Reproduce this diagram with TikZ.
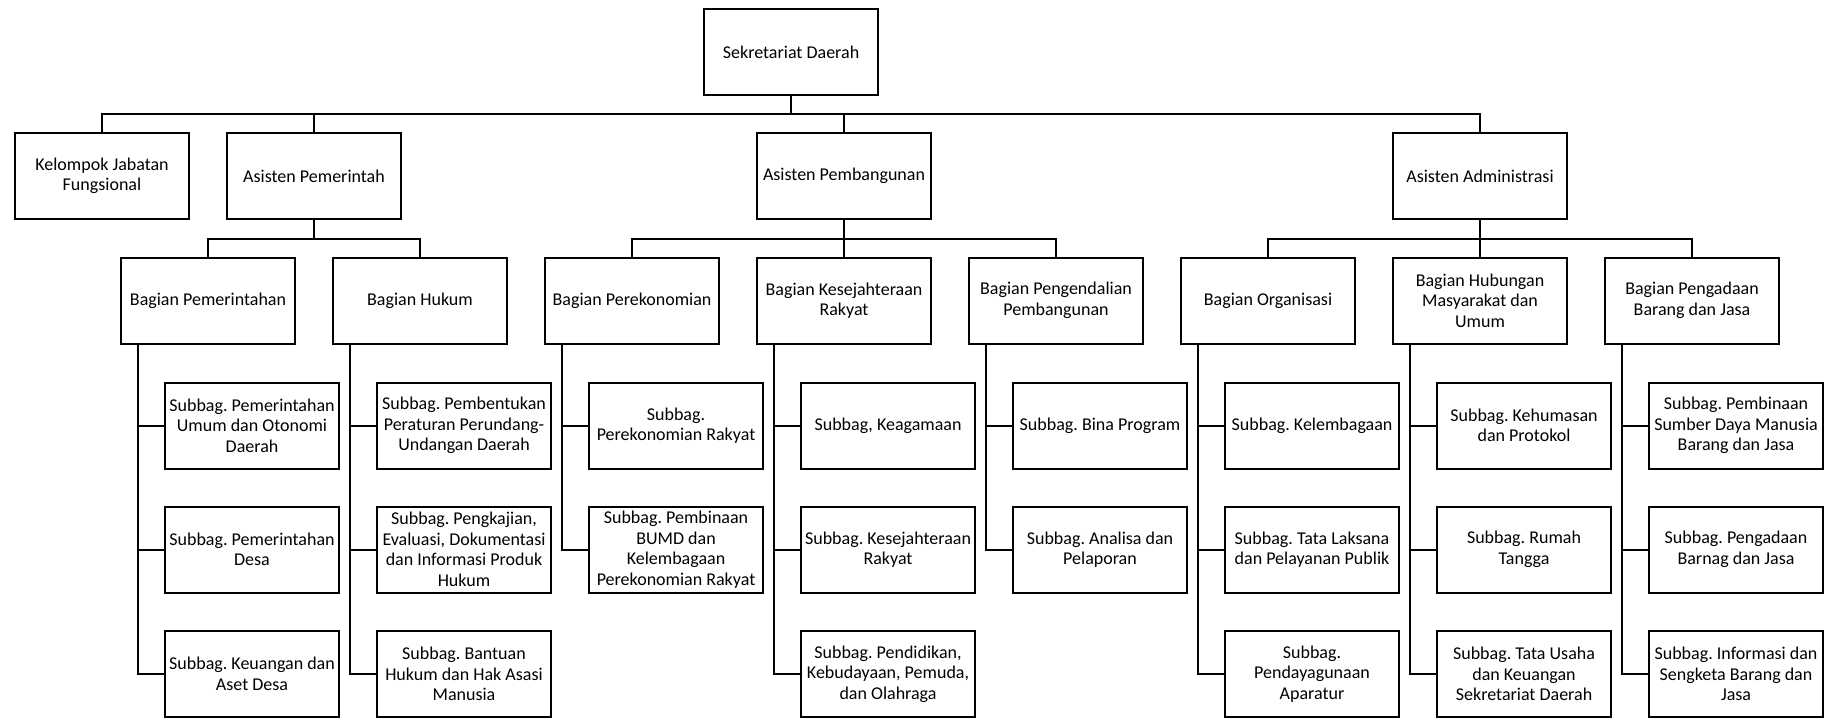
\documentclass[tikz,border=0pt]{standalone}
\usepackage{fontspec}
\setmainfont{Carlito}
\usetikzlibrary{calc}

\tikzset{
  unit/.style={draw, line width=2pt, minimum width=174pt, minimum height=86pt,
               inner sep=1pt, align=center,
               font=\fontsize{18}{20.5}\selectfont\frenchspacing},
  link/.style={line width=2pt},
}

\begin{document}
\begin{tikzpicture}[x=1pt, y=-1pt]
  \useasboundingbox (0,0) rectangle (1838,718);

  % pimpinan dan asisten
  \node[unit] (sek)    at (791,52)   {Sekretariat Daerah};
  \node[unit] (kel)    at (102,176)  {Kelompok Jabatan\\Fungsional};
  \node[unit] (aspem)  at (314,176)  {Asisten Pemerintah};
  \node[unit] (asbang) at (844,176)  {Asisten Pembangunan};
  \node[unit] (asadm)  at (1480,176) {Asisten Administrasi};

  % bagian
  \node[unit] (b1) at (208,300.5)  {Bagian Pemerintahan};
  \node[unit] (b2) at (420,300.5)  {Bagian Hukum};
  \node[unit] (b3) at (632,300.5)  {Bagian Perekonomian};
  \node[unit] (b4) at (844,300.5)  {Bagian Kesejahteraan\\Rakyat};
  \node[unit] (b5) at (1056,300.5) {Bagian Pengendalian\\Pembangunan};
  \node[unit] (b6) at (1268,300.5) {Bagian Organisasi};
  \node[unit] (b7) at (1480,300.5) {Bagian Hubungan\\Masyarakat dan\\Umum};
  \node[unit] (b8) at (1692,300.5) {Bagian Pengadaan\\Barang dan Jasa};

  % subbagian
  \node[unit] (s11) at (252,425.5) {Subbag. Pemerintahan\\Umum dan Otonomi\\Daerah};
  \node[unit] (s12) at (252,549.5) {Subbag. Pemerintahan\\Desa};
  \node[unit] (s13) at (252,674)   {Subbag. Keuangan dan\\Aset Desa};

  \node[unit] (s21) at (464,425.5) {Subbag. Pembentukan\\Peraturan Perundang-\\Undangan Daerah};
  \node[unit] (s22) at (464,549.5) {Subbag. Pengkajian,\\Evaluasi, Dokumentasi\\dan Informasi Produk\\Hukum};
  \node[unit] (s23) at (464,674)   {Subbag. Bantuan\\Hukum dan Hak Asasi\\Manusia};

  \node[unit] (s31) at (676,425.5) {Subbag.\\Perekonomian Rakyat};
  \node[unit] (s32) at (676,549.5) {Subbag. Pembinaan\\BUMD dan\\Kelembagaan\\Perekonomian Rakyat};

  \node[unit] (s41) at (888,425.5) {Subbag, Keagamaan};
  \node[unit] (s42) at (888,549.5) {Subbag. Kesejahteraan\\Rakyat};
  \node[unit] (s43) at (888,674)   {Subbag. Pendidikan,\\Kebudayaan, Pemuda,\\dan Olahraga};

  \node[unit] (s51) at (1100,425.5) {Subbag. Bina Program};
  \node[unit] (s52) at (1100,549.5) {Subbag. Analisa dan\\Pelaporan};

  \node[unit] (s61) at (1312,425.5) {Subbag. Kelembagaan};
  \node[unit] (s62) at (1312,549.5) {Subbag. Tata Laksana\\dan Pelayanan Publik};
  \node[unit] (s63) at (1312,674)   {Subbag.\\Pendayagunaan\\Aparatur};

  \node[unit] (s71) at (1524,425.5) {Subbag. Kehumasan\\dan Protokol};
  \node[unit] (s72) at (1524,549.5) {Subbag. Rumah\\Tangga};
  \node[unit] (s73) at (1524,674)   {Subbag. Tata Usaha\\dan Keuangan\\Sekretariat Daerah};

  \node[unit] (s81) at (1736,425.5) {Subbag. Pembinaan\\Sumber Daya Manusia\\Barang dan Jasa};
  \node[unit] (s82) at (1736,549.5) {Subbag. Pengadaan\\Barnag dan Jasa};
  \node[unit] (s83) at (1736,674)   {Subbag. Informasi dan\\Sengketa Barang dan\\Jasa};

  % garis komando
  \draw[link] (sek.south) -- ++(0,18) coordinate (bus0);
  \foreach \n in {kel, aspem, asbang, asadm}
    \draw[link] (bus0) -| (\n.north);

  \draw[link] (aspem.south) -- ++(0,18.5) coordinate (bus1);
  \foreach \n in {b1, b2}
    \draw[link] (bus1) -| (\n.north);

  \draw[link] (asbang.south) -- ++(0,18.5) coordinate (bus2);
  \foreach \n in {b3, b4, b5}
    \draw[link] (bus2) -| (\n.north);

  \draw[link] (asadm.south) -- ++(0,18.5) coordinate (bus3);
  \foreach \n in {b6, b7, b8}
    \draw[link] (bus3) -| (\n.north);

  \foreach \b/\list in {b1/{s11,s12,s13}, b2/{s21,s22,s23}, b3/{s31,s32},
                        b4/{s41,s42,s43}, b5/{s51,s52}, b6/{s61,s62,s63},
                        b7/{s71,s72,s73}, b8/{s81,s82,s83}}
    \foreach \s in \list
      \draw[link] ([xshift=18pt]\b.south west) |- (\s.west);
\end{tikzpicture}
\end{document}
